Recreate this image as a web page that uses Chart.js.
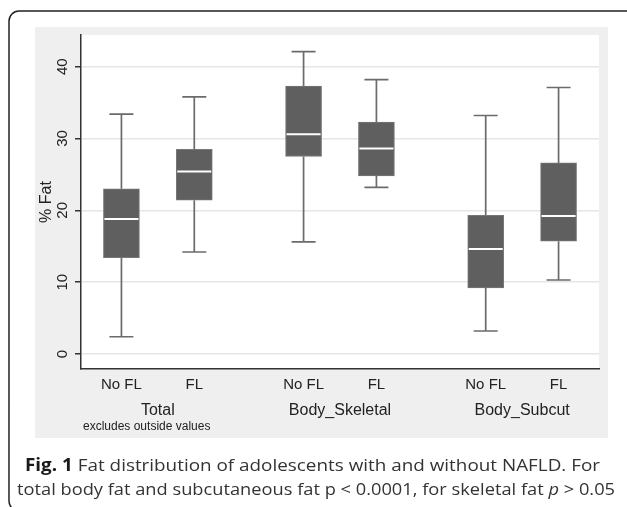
<!DOCTYPE html>
<html><head><meta charset="utf-8">
<script src="https://cdn.jsdelivr.net/npm/chart.js@4.4.1/dist/chart.umd.min.js"></script>
<style>html,body{margin:0;padding:0;background:#fff;}canvas{display:block;}</style>
</head><body>
<canvas id="c" width="627" height="507"></canvas>
<script>
// ---- data ----
const boxLabels = ['No FL', 'FL', 'No FL', 'FL', 'No FL', 'FL'];
const boxPositions = [0, 1, 2.5, 3.5, 5, 6];
const groupLabels = ['Total', 'Body_Skeletal', 'Body_Subcut'];
const groupPositions = [0.5, 3, 5.5];
const whiskerLow = [2.4, 14.2, 15.6, 23.2, 3.2, 10.3];
const q1 = [13.4, 21.4, 27.5, 24.8, 9.2, 15.7];
const median = [18.8, 25.4, 30.6, 28.6, 14.6, 19.2];
const q3 = [23.0, 28.5, 37.3, 32.3, 19.3, 26.6];
const whiskerHigh = [33.4, 35.8, 42.1, 38.2, 33.2, 37.1];
const yTicks = [0, 10, 20, 30, 40];
const yTitle = '% Fat';
const noteText = 'excludes outside values';
const captionLines = [
  [{t: 'Fig. 1', w: 'bold'}, {t: ' Fat distribution of adolescents with and without NAFLD. For'}],
  [{t: 'total body fat and subcutaneous fat p < 0.0001, for skeletal fat '}, {t: 'p', s: 'italic'}, {t: ' > 0.05'}]
];

const SANS = '"Liberation Sans", Arial, Helvetica, sans-serif';
const CAP = '"Open Sans", "Noto Sans", sans-serif';

const framePlugin = {
  id: 'frame',
  beforeDraw(chart) {
    const ctx = chart.ctx, ca = chart.chartArea;
    ctx.save();
    ctx.fillStyle = '#ffffff';
    ctx.fillRect(0, 0, chart.width, chart.height);
    // outer rounded frame
    ctx.strokeStyle = '#222';
    ctx.lineWidth = 1.5;
    ctx.beginPath();
    ctx.roundRect(9, 11, 640, 500, 10);
    ctx.stroke();
    // graph region
    ctx.fillStyle = '#efefef';
    ctx.fillRect(35, 27, 573, 411);
    // plot region
    ctx.fillStyle = '#ffffff';
    ctx.fillRect(ca.left, ca.top, ca.right - ca.left, ca.bottom - ca.top);
    ctx.restore();
  },
  afterDraw(chart) {
    const ctx = chart.ctx, ca = chart.chartArea;
    ctx.save();
    // note
    ctx.fillStyle = '#222';
    ctx.font = '12px ' + SANS;
    ctx.textAlign = 'left';
    ctx.textBaseline = 'middle';
    ctx.fillText(noteText, ca.left + 2, 427);
    // caption
    const boxes = [{x: 25, r: 600, b: 471}, {x: 17, r: 615, b: 495}];
    captionLines.forEach((line, li) => {
      const fontFor = seg => (seg.s || 'normal') + ' ' + (seg.w || 'normal') + ' 17px ' + CAP;
      let total = 0;
      line.forEach(seg => { ctx.font = fontFor(seg); total += ctx.measureText(seg.t).width; });
      const sx = (boxes[li].r - boxes[li].x) / total;
      ctx.save();
      ctx.translate(boxes[li].x, boxes[li].b);
      ctx.scale(sx, 1);
      let cx = 0;
      ctx.textBaseline = 'alphabetic';
      line.forEach(seg => {
        ctx.font = fontFor(seg);
        ctx.fillStyle = seg.w === 'bold' ? '#1a1a1a' : '#333';
        ctx.fillText(seg.t, cx, 0);
        cx += ctx.measureText(seg.t).width;
      });
      ctx.restore();
    });
    ctx.restore();
  }
};

const boxPlugin = {
  id: 'boxparts',
  afterDatasetsDraw(chart) {
    const ctx = chart.ctx;
    const xs = chart.scales.x, ys = chart.scales.y;
    const meta = chart.getDatasetMeta(0);
    ctx.save();
    boxPositions.forEach((p, i) => {
      const x = xs.getPixelForValue(p);
      const cap = 12;
      ctx.strokeStyle = '#6b6b6b';
      ctx.lineWidth = 1.7;
      ctx.beginPath();
      ctx.moveTo(x, ys.getPixelForValue(q3[i]));
      ctx.lineTo(x, ys.getPixelForValue(whiskerHigh[i]));
      ctx.moveTo(x, ys.getPixelForValue(q1[i]));
      ctx.lineTo(x, ys.getPixelForValue(whiskerLow[i]));
      ctx.moveTo(x - cap, ys.getPixelForValue(whiskerHigh[i]));
      ctx.lineTo(x + cap, ys.getPixelForValue(whiskerHigh[i]));
      ctx.moveTo(x - cap, ys.getPixelForValue(whiskerLow[i]));
      ctx.lineTo(x + cap, ys.getPixelForValue(whiskerLow[i]));
      ctx.stroke();
      // median
      const w = meta.data[i].width;
      ctx.strokeStyle = '#ffffff';
      ctx.lineWidth = 2;
      ctx.beginPath();
      const my = ys.getPixelForValue(median[i]);
      ctx.moveTo(x - w / 2 + 1, my);
      ctx.lineTo(x + w / 2 - 1, my);
      ctx.stroke();
    });
    ctx.restore();
  }
};

new Chart(document.getElementById('c'), {
  type: 'bar',
  data: {
    datasets: [{
      data: boxPositions.map((p, i) => ({x: p, y: [q1[i], q3[i]]})),
      backgroundColor: '#5f5f5f',
      borderColor: '#777777',
      borderWidth: 1,
      borderSkipped: false,
      barThickness: 36,
      xAxisID: 'x',
      yAxisID: 'y'
    }]
  },
  options: {
    responsive: false,
    animation: false,
    devicePixelRatio: 1,
    layout: {padding: {top: 35, right: 28, left: 0, bottom: 88}},
    plugins: {legend: {display: false}, tooltip: {enabled: false}},
    scales: {
      x: {
        type: 'linear', position: 'bottom', weight: 0, offset: false,
        min: -0.555, max: 6.555,
        afterBuildTicks: s => { s.ticks = boxPositions.map(v => ({value: v})); },
        afterFit: s => { s.height = 24; },
        grid: {display: false, drawTicks: false, offset: false},
        border: {display: true, color: '#333', width: 1.5},
        ticks: {autoSkip: false, maxRotation: 0, minRotation: 0, padding: 7,
          callback: (v, i) => boxLabels[i], color: '#222', font: {family: SANS, size: 15}}
      },
      xg: {
        type: 'linear', position: 'bottom', weight: 1, offset: false,
        min: -0.555, max: 6.555,
        afterBuildTicks: s => { s.ticks = groupPositions.map(v => ({value: v})); },
        afterFit: s => { s.height = 26; },
        grid: {display: false, drawTicks: false},
        border: {display: false},
        ticks: {autoSkip: false, maxRotation: 0, minRotation: 0, padding: 8,
          callback: (v, i) => groupLabels[i], color: '#222', font: {family: SANS, size: 16}}
      },
      y: {
        type: 'linear', position: 'left',
        min: -2.09, max: 44.41,
        afterBuildTicks: s => { s.ticks = yTicks.map(v => ({value: v})); },
        afterFit: s => { s.width = 81; },
        grid: {color: '#e6e6e6', lineWidth: 1.5, drawTicks: true, tickLength: 6, tickColor: '#333', tickWidth: 1.5},
        border: {display: true, color: '#333', width: 1.5},
        ticks: {minRotation: 90, maxRotation: 90, crossAlign: 'center', padding: 4,
          color: '#222', font: {family: SANS, size: 15}},
        title: {display: true, text: yTitle, color: '#222', font: {family: SANS, size: 16},
          padding: {top: 37, bottom: 0}}
      }
    }
  },
  plugins: [framePlugin, boxPlugin]
});
</script>
</body></html>
